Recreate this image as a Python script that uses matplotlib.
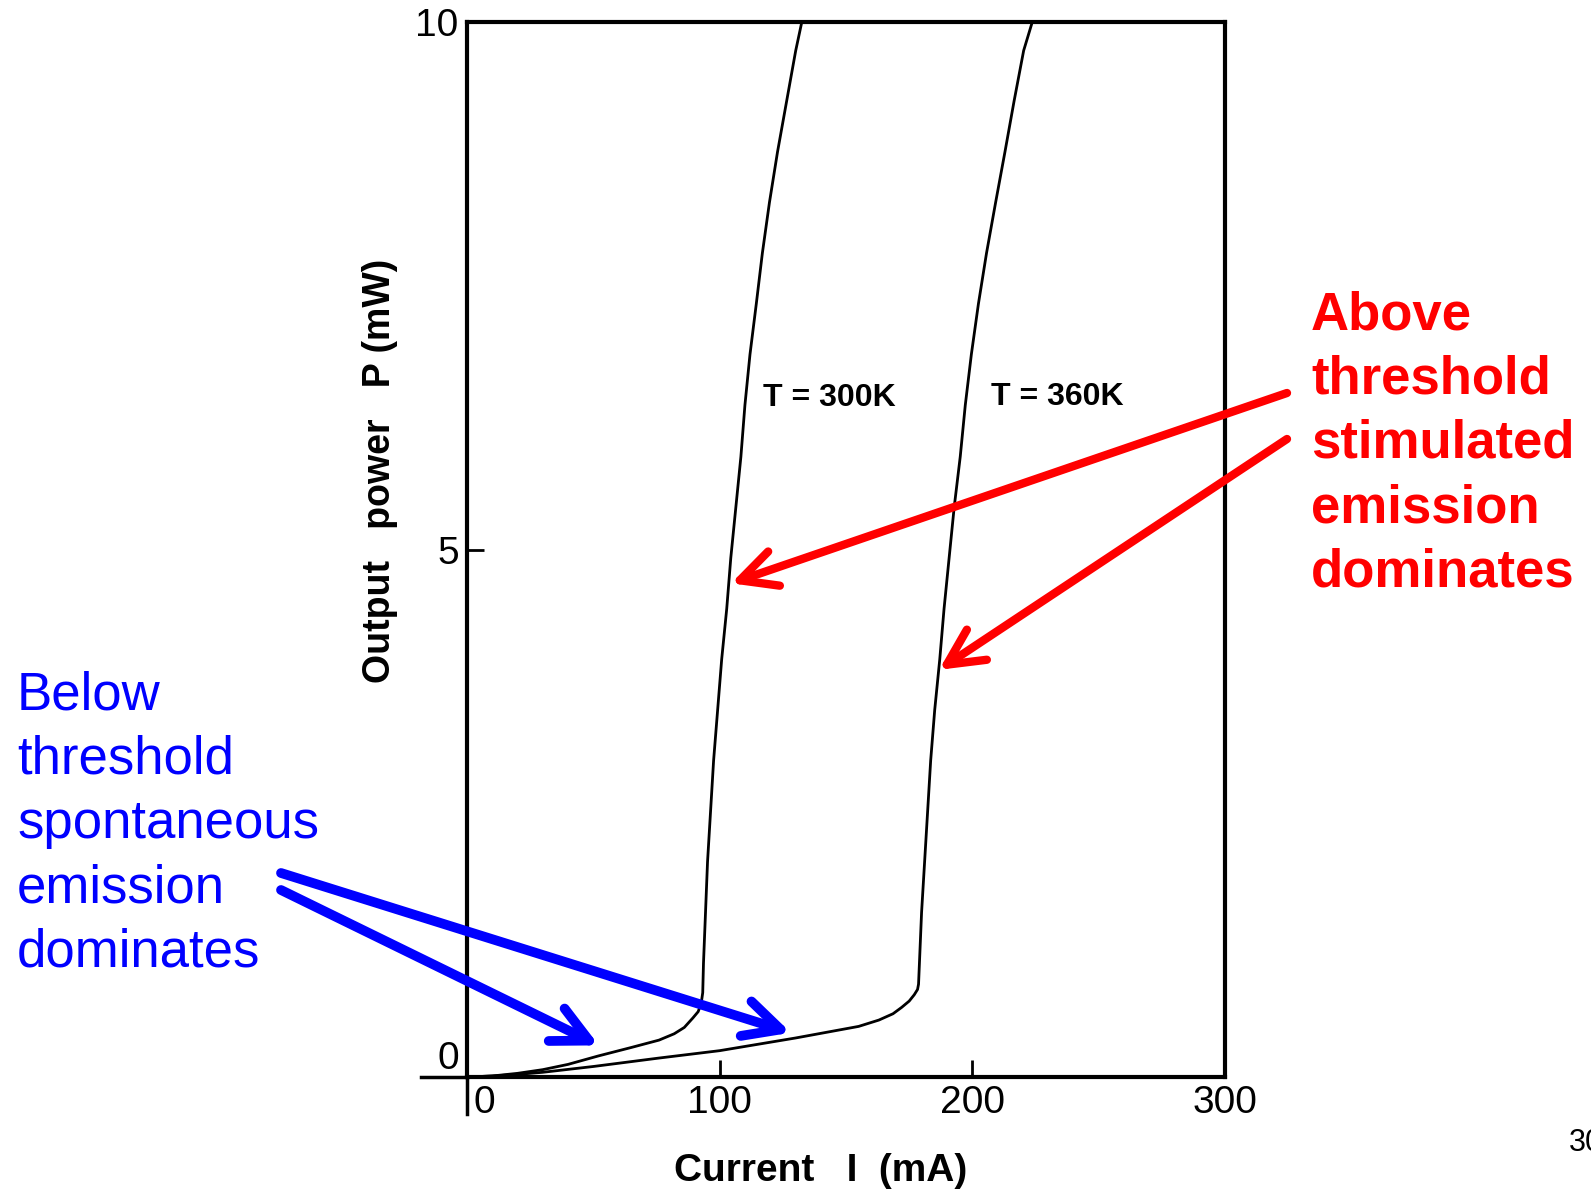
import numpy as np
import matplotlib
matplotlib.use("Agg")
from matplotlib import pyplot as plt
from matplotlib.transforms import ScaledTranslation

# P-I curves of a laser diode
# current in mA, output power in mW
i300 = [0, 10, 20, 30, 40, 52, 65, 76, 82, 86, 89.4, 91.5, 92.7, 93.3, 93.6,
        94.4, 95.2, 96.4, 97.6, 99.2, 100.8, 102.8, 104.4, 106.4, 108.4, 110.0,
        112.0, 114.5, 116.9, 119.7, 122.9, 126.5, 130.1, 132.5]
p300 = [0, 0.01, 0.035, 0.07, 0.12, 0.2, 0.28, 0.35, 0.41, 0.47, 0.56, 0.62, 0.7, 0.8, 1.08,
        1.56, 2.04, 2.52, 3.0, 3.48, 3.96, 4.44, 4.92, 5.40, 5.88, 6.37,
        6.85, 7.33, 7.81, 8.29, 8.77, 9.25, 9.73, 10]

i360 = [0, 10, 20, 30, 50, 76, 100, 130, 155, 163, 168.6, 172, 175, 177, 178.3,
        178.7, 179.9, 181.1, 182.3, 183.5, 185.1, 187.1, 188.8, 190.8, 192.8,
        195.2, 197.2, 199.6, 202.4, 205.6, 209.2, 212.9, 216.5, 220.3, 223.7]
p360 = [0, 0.01, 0.025, 0.045, 0.1, 0.18, 0.25, 0.37, 0.48, 0.54, 0.6, 0.66, 0.72, 0.78, 0.83,
        0.88, 1.56, 2.04, 2.52, 3.0, 3.48, 3.96, 4.44, 4.92, 5.40,
        5.88, 6.37, 6.85, 7.33, 7.81, 8.29, 8.77, 9.25, 9.73, 10]

xticks = [0, 100, 200, 300]
yticks = [0, 5, 10]
curve_labels = ["T = 300K", "T = 360K"]
label_pos = [(117, 6.44), (207.4, 6.45)]

# arrow tips (data) -- pointing at the curves
red_tips = [(104.5, 4.68), (186.8, 3.86)]
blue_tips = [(128.2, 0.42), (52.2, 0.30)]

arial = ["Liberation Sans", "DejaVu Sans"]

fig = plt.figure(figsize=(15.91, 11.93), dpi=100)
ax = fig.add_axes([0.2935, 0.0972, 0.4765, 0.8843])

ax.plot(i300, p300, color="black", lw=2)
ax.plot(i360, p360, color="black", lw=2)

ax.set_xlim(0, 300)
ax.set_ylim(0, 10)
for s in ax.spines.values():
    s.set_linewidth(3)

ax.set_xticks(xticks)
ax.set_xticklabels([str(t) for t in xticks], family=arial, fontsize=28)
ax.set_yticks(yticks)
ax.set_yticklabels([str(t) for t in yticks], family=arial, fontsize=28)
ax.tick_params(direction="in", length=12, width=2, pad=6)

# nudge the zero labels like in the scan
lx = ax.get_xticklabels()[0]
lx.set_transform(lx.get_transform() + ScaledTranslation(0.17, 0, fig.dpi_scale_trans))
ly = ax.get_yticklabels()[0]
ly.set_transform(ly.get_transform() + ScaledTranslation(0, 0.22, fig.dpi_scale_trans))

# axis lines running past the origin
ax.plot([0, 0], [0, -0.035], transform=ax.transAxes, clip_on=False, color="black", lw=2.5)
ax.plot([0, -0.061], [0, 0], transform=ax.transAxes, clip_on=False, color="black", lw=2.5)

ax.set_xlabel("Current   I  (mA)", family=arial, fontweight="bold", fontsize=28)
ax.xaxis.set_label_coords(0.466, -0.072)
ax.set_ylabel("Output   power   P (mW)", family=arial, fontweight="bold", fontsize=27)
ax.yaxis.set_label_coords(-0.091, 0.575)

for txt, (x, y) in zip(curve_labels, label_pos):
    ax.text(x, y, txt, family=arial, fontweight="bold", fontsize=23,
            ha="left", va="center")

# annotations
fig.text(1311 / 1591, 1 - 290 / 1193, "Above\nthreshold\nstimulated\nemission\ndominates",
         color="#ff0000", family=arial, fontweight="bold", fontsize=38,
         ha="left", va="top", linespacing=1.37)
fig.text(17 / 1591, 1 - 670 / 1193, "Below\nthreshold\nspontaneous\nemission\ndominates",
         color="#0000ff", family=arial, fontsize=38,
         ha="left", va="top", linespacing=1.37)

red_tails = [(1287, 1193 - 393), (1287, 1193 - 439)]
blue_tails = [(281, 1193 - 873), (281, 1193 - 890)]
for tip, tail in zip(red_tips, red_tails):
    ax.annotate("", xy=tip, xycoords="data", xytext=tail, textcoords="figure pixels",
                arrowprops=dict(arrowstyle="->,head_length=1.3,head_width=0.65",
                                color="#ff0000", lw=6, shrinkA=0, shrinkB=0,
                                mutation_scale=20),
                annotation_clip=False)
for tip, tail in zip(blue_tips, blue_tails):
    ax.annotate("", xy=tip, xycoords="data", xytext=tail, textcoords="figure pixels",
                arrowprops=dict(arrowstyle="->,head_length=1.3,head_width=0.65",
                                color="#0000ff", lw=7, shrinkA=0, shrinkB=0,
                                mutation_scale=20),
                annotation_clip=False)

# slide number, cut off at the edge like the source slide
fig.text(1569 / 1591, 1 - 1143 / 1193, "30", family=arial, fontsize=22,
         ha="left", va="center")

fig.savefig("out.png", dpi=100)
